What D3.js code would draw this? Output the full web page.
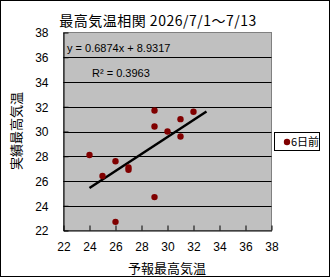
<!DOCTYPE html>
<html>
<head>
<meta charset="utf-8">
<script src="https://cdn.jsdelivr.net/npm/d3@7"></script>
<style>
  body { margin: 0; background: #fff; }
  text { font-family: "Noto Sans CJK JP", "DejaVu Sans", sans-serif; }
</style>
</head>
<body>
<div id="visualization"></div>
<script>
// forecast max temp vs observed max temp, 6 days ahead
const forecast = [24, 25, 26, 26, 27, 27, 29, 29, 29, 30, 31, 31, 32];
const observed = [28.1, 26.4, 27.6, 22.7, 27.1, 26.9, 31.7, 30.4, 24.7, 30.0, 31.0, 29.6, 31.6];
const xTicks = [22, 24, 26, 28, 30, 32, 34, 36, 38];
const yTicks = [22, 24, 26, 28, 30, 32, 34, 36, 38];
const slope = 0.6874;
const intercept = 8.9317;
const trendRange = [24, 33];
const titleText = '最高気温相関 2026/7/1～7/13';
const xTitle = '予報最高気温';
const yTitle = '実績最高気温';
const seriesName = '6日前';
const eqText = 'y = 0.6874x + 8.9317';
const r2Text = 'R² = 0.3963';

document.addEventListener('DOMContentLoaded', () => {
    const width = 331;
    const height = 278;
    const plot = { left: 63.5, right: 271.5, top: 32.5, bottom: 230.5 };

    const svg = d3.select('#visualization')
        .append('svg')
        .attr('width', width)
        .attr('height', height);

    // outer border
    svg.append('rect')
        .attr('x', 0.5).attr('y', 0.5)
        .attr('width', 329).attr('height', 276)
        .attr('fill', '#fff')
        .attr('stroke', '#000');

    const x = d3.scaleLinear().domain([22, 38]).range([plot.left, plot.right]);
    const y = d3.scaleLinear().domain([22, 38]).range([plot.bottom, plot.top]);

    // plot area
    svg.append('rect')
        .attr('x', plot.left).attr('y', plot.top)
        .attr('width', plot.right - plot.left)
        .attr('height', plot.bottom - plot.top)
        .attr('fill', '#c0c0c0')
        .attr('stroke', '#808080');

    // gridlines
    svg.append('g')
        .selectAll('line')
        .data(yTicks.filter(d => d > 22 && d < 38))
        .enter()
        .append('line')
        .attr('x1', plot.left).attr('x2', plot.right)
        .attr('y1', d => Math.round(y(d)) + 0.5)
        .attr('y2', d => Math.round(y(d)) + 0.5)
        .attr('stroke', '#000');

    // axes
    const xAxis = svg.append('g')
        .attr('transform', `translate(0,${plot.bottom})`)
        .call(d3.axisBottom(x).tickValues(xTicks).tickSizeInner(-5).tickSizeOuter(0).tickPadding(12));
    const yAxis = svg.append('g')
        .attr('transform', `translate(${plot.left},0)`)
        .call(d3.axisLeft(y).tickValues(yTicks).tickSizeInner(-5).tickSizeOuter(0).tickPadding(15));
    [xAxis, yAxis].forEach(a => {
        a.select('.domain').attr('stroke', '#000');
        a.selectAll('.tick line').attr('stroke', '#000');
        a.selectAll('.tick text')
            .attr('fill', '#000')
            .style('font-size', '12px')
            .style('font-family', '"Liberation Sans", Arial, sans-serif');
    });
    yAxis.selectAll('.tick text').attr('dy', '0.36em');

    // trendline
    svg.append('line')
        .attr('x1', x(trendRange[0])).attr('y1', y(slope * trendRange[0] + intercept))
        .attr('x2', x(trendRange[1])).attr('y2', y(slope * trendRange[1] + intercept))
        .attr('stroke', '#000')
        .attr('stroke-width', 2.5);

    // points
    svg.append('g')
        .selectAll('circle')
        .data(forecast.map((f, i) => [f, observed[i]]))
        .enter()
        .append('circle')
        .attr('cx', d => x(d[0]))
        .attr('cy', d => y(d[1]))
        .attr('r', 3.2)
        .attr('fill', '#800000');

    // equation labels
    svg.append('text')
        .attr('x', 67).attr('y', 52)
        .style('font-size', '11px')
        .style('font-family', '"Liberation Sans", Arial, sans-serif')
        .text(eqText);
    svg.append('text')
        .attr('x', 92).attr('y', 77)
        .style('font-size', '11px')
        .style('font-family', '"Liberation Sans", Arial, sans-serif')
        .text(r2Text);

    // titles
    svg.append('text')
        .attr('x', 158).attr('y', 26)
        .attr('text-anchor', 'middle')
        .style('font-size', '14px')
        .style('letter-spacing', '0.5px')
        .text(titleText);
    svg.append('text')
        .attr('x', 167).attr('y', 273)
        .attr('text-anchor', 'middle')
        .style('font-size', '13px')
        .text(xTitle);
    svg.append('text')
        .attr('transform', 'translate(21,131) rotate(-90)')
        .attr('text-anchor', 'middle')
        .style('font-size', '13px')
        .text(yTitle);

    // legend
    const legend = svg.append('g');
    legend.append('rect')
        .attr('x', 274.5).attr('y', 132.5)
        .attr('width', 45).attr('height', 18)
        .attr('fill', '#fff')
        .attr('stroke', '#000');
    legend.append('circle')
        .attr('cx', 287).attr('cy', 142)
        .attr('r', 3.2)
        .attr('fill', '#800000');
    legend.append('text')
        .attr('x', 291).attr('y', 146)
        .style('font-size', '11px')
        .text(seriesName);
});
</script>
</body>
</html>
